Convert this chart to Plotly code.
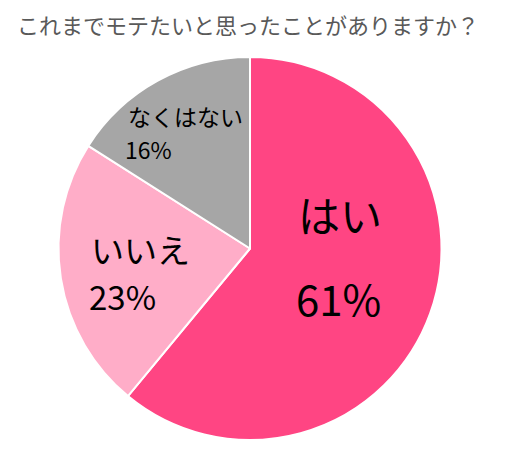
import plotly.graph_objects as go

labels = ["はい", "いいえ", "なくはない"]
values = [61, 23, 16]
colors = ["#FF4583", "#FFADC8", "#A6A6A6"]
title = "これまでモテたいと思ったことがありますか？"

W, H = 507, 470
ML, MR, MT, MB = 0, 23, 49, 38
OFF = 8  # page body margin


def px(x, y):
    return ((x - OFF - ML) / (W - ML - MR), 1 - (y - OFF - MT) / (H - MT - MB))


# label text placement (pixel centres of name line and percent line) and font sizes
name_xy = [(340, 213), (140, 249), (185, 116)]
pct_xy = [(338, 297), (122, 296), (148, 149)]
sizes = [42, 33, 23]

fig = go.Figure(go.Pie(
    labels=labels, values=values, sort=False, direction="clockwise",
    rotation=0, marker=dict(colors=colors, line=dict(color="white", width=2)),
    textinfo="none", hoverinfo="label+percent", showlegend=False,
    domain=dict(x=[0, 1], y=[0, 1]),
))

font = dict(color="black", family="Noto Sans CJK JP")
for lab, v, n, p, s in zip(labels, values, name_xy, pct_xy, sizes):
    x, y = px(*n)
    fig.add_annotation(x=x, y=y, xref="paper", yref="paper", text=lab,
                       xanchor="center", yanchor="middle", showarrow=False,
                       font=dict(size=s, **font))
    x, y = px(*p)
    fig.add_annotation(x=x, y=y, xref="paper", yref="paper", text=f"{v}%",
                       xanchor="center", yanchor="middle", showarrow=False,
                       font=dict(size=s, **font))

fig.update_layout(
    width=W, height=H,
    margin=dict(l=ML, r=MR, t=MT, b=MB),
    paper_bgcolor="white", plot_bgcolor="white",
    title=dict(text=title, x=9 / W, xanchor="left", y=1 - 18 / H, yanchor="middle",
               font=dict(size=22, color="#595959", family="Noto Sans CJK JP")),
)

fig.write_html("out.html")
